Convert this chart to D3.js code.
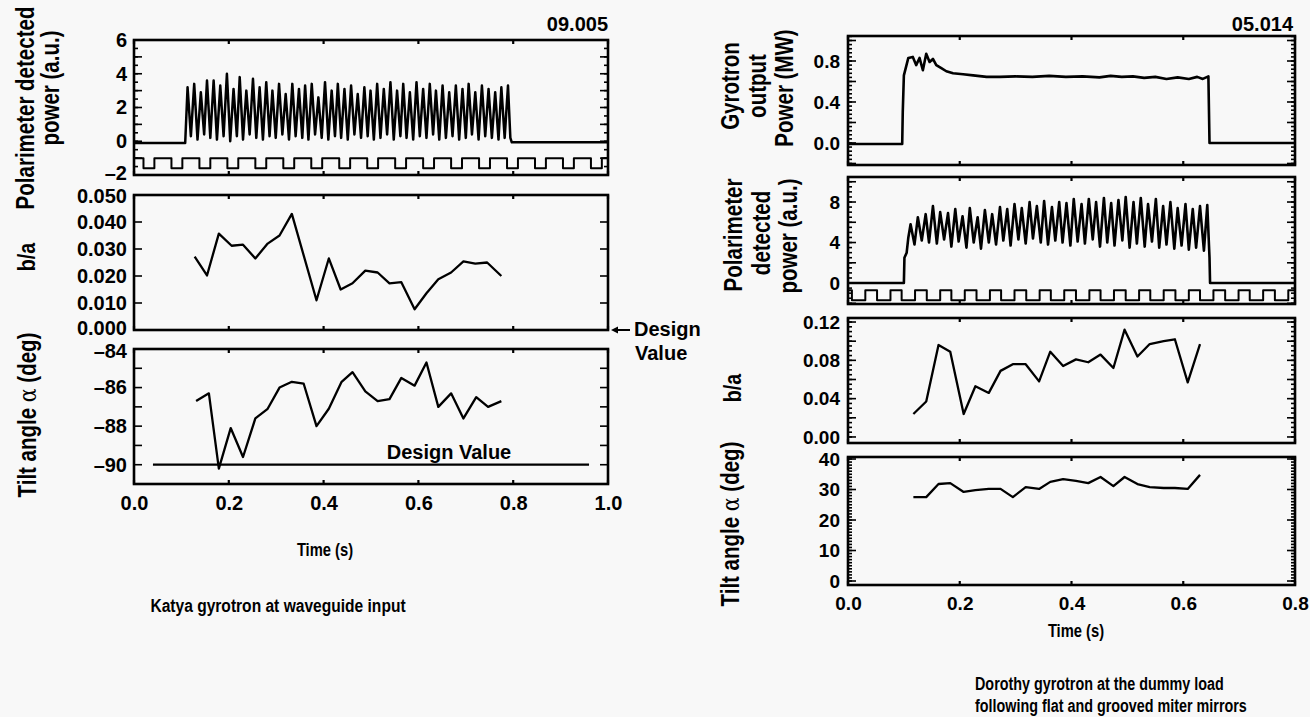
<!DOCTYPE html>
<html>
<head>
<meta charset="utf-8">
<script src="https://cdn.jsdelivr.net/npm/d3@7"></script>
<style>
  body { margin: 0; background: #f8f8f8; }
  text { font-family: "Liberation Sans", Arial, sans-serif; font-weight: bold; fill: #000; }
</style>
</head>
<body>
<svg id="chart" width="1310" height="717"></svg>
<script>
// ---------- left figure (Katya, shot 09.005) ----------
const leftLead = [[0.0, -0.1], [0.108, -0.1]];
const leftPeakT = [0.113,0.127,0.141,0.154,0.168,0.182,0.196,0.210,0.223,0.237,
                   0.251,0.265,0.279,0.292,0.306,0.320,0.334,0.348,0.361,0.375,
                   0.389,0.403,0.417,0.430,0.444,0.458,0.472,0.486,0.499,0.513,
                   0.527,0.541,0.555,0.568,0.582,0.596,0.610,0.624,0.637,0.651,
                   0.665,0.679,0.693,0.706,0.720,0.734,0.748,0.762,0.775,0.789];
const leftPeakV = [3.2,3.4,2.9,3.6,3.6,3.3,4.0,3.1,3.8,3.0,
                   3.7,3.2,3.5,3.0,3.4,2.8,3.4,3.1,3.3,3.4,
                   2.6,3.5,3.0,3.4,3.1,3.3,2.8,3.2,3.0,3.4,
                   3.1,3.5,3.0,3.4,2.9,3.5,3.1,3.4,3.0,3.3,
                   2.9,3.3,3.1,3.4,2.9,3.3,3.1,2.9,3.2,3.3];
const leftTroughT = [0.120,0.134,0.148,0.161,0.175,0.189,0.203,0.217,0.230,0.244,
                     0.258,0.272,0.286,0.299,0.313,0.327,0.341,0.355,0.368,0.382,
                     0.396,0.410,0.424,0.437,0.451,0.465,0.479,0.493,0.506,0.520,
                     0.534,0.548,0.562,0.575,0.589,0.603,0.617,0.631,0.644,0.658,
                     0.672,0.686,0.700,0.713,0.727,0.741,0.755,0.769,0.782];
const leftTroughV = [0.3,0.1,0.4,0.2,0.1,0.3,0.0,0.3,0.1,0.4,
                     0.2,0.1,0.3,0.2,0.4,0.1,0.3,0.2,0.1,0.4,
                     0.2,0.1,0.3,0.2,0.1,0.4,0.2,0.3,0.1,0.2,
                     0.4,0.1,0.3,0.2,0.1,0.3,0.2,0.4,0.1,0.2,
                     0.3,0.1,0.2,0.4,0.1,0.3,0.2,0.1,0.2];
const leftTail = [[0.794, 0.2], [0.797, -0.06], [1.0, -0.06]];

const leftChopHigh = -1.0, leftChopLow = -1.6;
const leftChopFall = [0.020,0.079,0.138,0.197,0.256,0.315,0.374,0.433,0.492,0.551,0.610,0.669,0.728,0.787,0.846,0.905,0.964];
const leftChopRise = [0.043,0.102,0.161,0.220,0.279,0.338,0.397,0.456,0.515,0.574,0.633,0.692,0.751,0.810,0.869,0.928,0.987];

const leftBaT = [0.128,0.154,0.179,0.206,0.230,0.256,0.282,0.307,0.333,0.385,0.411,0.436,0.461,0.488,
                 0.514,0.539,0.564,0.592,0.617,0.642,0.669,0.695,0.720,0.745,0.775];
const leftBaV = [0.0272,0.0202,0.0357,0.0312,0.0316,0.0265,0.0320,0.0350,0.0430,0.0110,0.0265,0.0150,0.0173,0.0220,
                 0.0213,0.0173,0.0177,0.0077,0.0136,0.0188,0.0213,0.0254,0.0246,0.0250,0.0200];

const leftTiltT = [0.131,0.158,0.179,0.204,0.230,0.256,0.282,0.307,0.333,0.358,0.385,0.411,0.438,0.461,
                   0.488,0.514,0.539,0.564,0.592,0.617,0.642,0.669,0.695,0.722,0.747,0.775];
const leftTiltV = [-86.7,-86.3,-90.2,-88.1,-89.6,-87.6,-87.1,-86.0,-85.7,-85.8,-88.0,-87.1,-85.7,-85.2,
                   -86.2,-86.7,-86.6,-85.5,-85.9,-84.7,-87.0,-86.3,-87.6,-86.5,-87.0,-86.7];
const leftDesignT = [0.04, 0.96], leftDesignV = -90;

// ---------- right figure (Dorothy, shot 05.014) ----------
const rightPower = [[0.0,-0.01],[0.097,-0.01],[0.098,0.30],[0.100,0.66],[0.108,0.83],[0.116,0.84],[0.122,0.76],
  [0.128,0.83],[0.134,0.71],[0.140,0.87],[0.146,0.79],[0.152,0.82],[0.158,0.76],[0.167,0.73],[0.176,0.70],
  [0.188,0.68],[0.206,0.67],[0.224,0.66],[0.248,0.645],[0.272,0.645],[0.300,0.650],[0.330,0.645],[0.360,0.655],
  [0.390,0.645],[0.420,0.650],[0.450,0.640],[0.470,0.655],[0.490,0.645],[0.510,0.650],[0.530,0.635],[0.550,0.645],
  [0.570,0.625],[0.590,0.640],[0.610,0.625],[0.625,0.645],[0.635,0.625],[0.645,0.650],[0.647,0.0],[0.800,0.0]];

const rightLead = [[0.0, 0.0], [0.100, 0.0], [0.101, 2.5], [0.105, 3.0], [0.108, 4.5]];
const rightPeakT = [0.112,0.125,0.139,0.152,0.165,0.179,0.192,0.205,0.218,0.232,
                    0.245,0.258,0.272,0.285,0.298,0.311,0.325,0.338,0.351,0.365,
                    0.378,0.391,0.404,0.418,0.431,0.444,0.458,0.471,0.484,0.497,
                    0.511,0.524,0.537,0.551,0.564,0.577,0.590,0.604,0.617,0.630,0.643];
const rightPeakV = [5.8,6.5,6.8,7.6,7.0,6.9,7.3,6.6,7.4,6.5,
                    7.2,6.8,7.5,7.3,7.8,7.4,8.0,7.6,8.1,7.5,
                    8.0,7.9,8.3,7.8,8.3,8.0,8.4,7.9,8.2,8.5,
                    8.0,8.4,7.8,8.3,7.6,8.0,7.4,7.8,7.3,7.6,7.7];
const rightTroughT = [0.119,0.132,0.145,0.159,0.172,0.185,0.198,0.212,0.225,0.238,
                      0.252,0.265,0.278,0.291,0.305,0.318,0.331,0.345,0.358,0.371,
                      0.384,0.398,0.411,0.424,0.438,0.451,0.464,0.477,0.491,0.504,
                      0.517,0.531,0.544,0.557,0.570,0.584,0.597,0.610,0.623,0.637];
const rightTroughV = [3.8,4.2,4.0,3.9,4.3,3.6,4.1,3.5,4.0,3.4,
                      4.0,3.8,4.2,3.7,4.3,3.9,4.4,4.0,3.8,4.2,
                      4.0,3.7,4.1,3.9,4.3,3.6,4.0,3.7,4.2,3.5,
                      3.9,3.6,4.1,3.5,3.8,3.4,3.7,3.3,3.5,3.2];
const rightTail = [[0.647, 2.5], [0.648, 0.0], [0.8, 0.0]];

const rightChopHigh = -0.7, rightChopLow = -1.7;
const rightChopFall = [0.007,0.052,0.096,0.141,0.185,0.230,0.274,0.319,0.363,0.408,0.452,0.497,0.541,0.586,0.630,0.675,0.719,0.764];
const rightChopRise = [0.031,0.076,0.120,0.165,0.209,0.254,0.298,0.343,0.387,0.432,0.476,0.521,0.565,0.610,0.654,0.699,0.743,0.788];

const rightBaT = [0.117,0.140,0.162,0.183,0.207,0.228,0.252,0.273,0.295,0.318,0.342,0.362,0.385,0.408,0.430,0.452,
                  0.475,0.495,0.518,0.540,0.565,0.585,0.608,0.630];
const rightBaV = [0.024,0.037,0.096,0.089,0.024,0.053,0.046,0.069,0.076,0.076,0.058,0.089,0.074,0.081,0.078,0.086,
                  0.072,0.112,0.084,0.097,0.100,0.102,0.057,0.097];
const rightTiltV = [27.5,27.5,31.8,32.1,29.2,29.8,30.2,30.2,27.5,30.8,30.2,32.5,33.4,32.8,32.1,34.1,
                    31.1,34.1,31.8,30.8,30.5,30.5,30.2,34.8];

// ---------- drawing ----------
const svg = d3.select("#chart");
const CONDENSE = 0.82;   // titles are set in a condensed bold face

function merge(lead, pT, pV, tT, tV, tail) {
  const pts = [...lead];
  pT.forEach((t, i) => {
    pts.push([t, pV[i]]);
    if (i < tT.length) pts.push([tT[i], tV[i]]);
  });
  return pts.concat(tail);
}

function chop(fall, rise, hi, lo, tEnd) {
  const ev = fall.map(t => [t, 0]).concat(rise.map(t => [t, 1])).sort((a, b) => a[0] - b[0]);
  const pts = [[0, hi]];
  ev.forEach(([t, up]) => {
    if (up) { pts.push([t, lo], [t, hi]); } else { pts.push([t, hi], [t, lo]); }
  });
  pts.push([tEnd, pts[pts.length - 1][1]]);
  return pts;
}

function styleText(sel, size) {
  sel.selectAll("text")
    .attr("font-family", "'Liberation Sans', Arial, sans-serif")
    .attr("font-weight", "bold")
    .attr("font-size", size)
    .attr("fill", "#000");
}

// inward tick marks on a vertical edge (dir +1 = to the right) or horizontal edge (dir -1 = upward)
function vTicks(y, vals, xEdge, len, dir) {
  svg.append("g").selectAll("line").data(vals).join("line")
    .attr("x1", xEdge).attr("x2", xEdge + dir * len)
    .attr("y1", d => y(d)).attr("y2", d => y(d))
    .attr("stroke", "#000").attr("stroke-width", 1.6);
}
function hTicks(x, vals, yEdge, len, dir) {
  svg.append("g").selectAll("line").data(vals).join("line")
    .attr("x1", d => x(d)).attr("x2", d => x(d))
    .attr("y1", yEdge).attr("y2", yEdge + dir * len)
    .attr("stroke", "#000").attr("stroke-width", 2.2);
}

function panel(x, yDomain, yRange, o) {
  const y = d3.scaleLinear().domain(yDomain).range(yRange);
  const [x0, x1] = x.range();
  const yTop = yRange[1], yBot = yRange[0];
  [[o.yMinor, 4], [o.yMajor, 8]].forEach(([vals, len]) => {
    if (!vals) return;
    vTicks(y, vals, x0, len, 1);
    vTicks(y, vals, x1, len, -1);
  });
  hTicks(x, o.xTicks, yBot, 4, -1);
  hTicks(x, o.xTicks, yTop, 4, 1);
  // labels
  const nudge = o.nudge || {};
  svg.append("g").attr("transform", `translate(${x0},0)`)
    .call(d3.axisLeft(y).tickValues(o.yLabels).tickSize(0).tickPadding(o.pad || 7).tickFormat(o.fmt))
    .call(g => g.select(".domain").remove())
    .call(g => styleText(g, o.fontSize))
    .call(g => g.selectAll("text").attr("y", d => nudge[d] || 0));
  svg.append("rect")
    .attr("x", x0).attr("y", yTop)
    .attr("width", x1 - x0).attr("height", yBot - yTop)
    .attr("fill", "none").attr("stroke", "#000").attr("stroke-width", 2.6);
  return y;
}

function trace(x, y, pts, w) {
  svg.append("path")
    .datum(pts)
    .attr("fill", "none").attr("stroke", "#000")
    .attr("stroke-width", w).attr("stroke-linejoin", "round")
    .attr("d", d3.line().x(d => x(d[0])).y(d => y(d[1])));
}

// condensed title text, horizontal or rotated
function title(txt, x, y, size, anchor, rot) {
  const t = svg.append("text")
    .attr("transform", `translate(${x},${y})${rot ? " rotate(-90)" : ""} scale(${CONDENSE},1)`)
    .attr("text-anchor", anchor || "middle").attr("font-size", size);
  if (txt.includes("α")) {
    const [a, b] = txt.split("α");
    t.append("tspan").text(a);
    t.append("tspan").attr("font-weight", "normal").attr("font-family", "'DejaVu Serif', serif").text("α");
    t.append("tspan").text(b);
  } else {
    t.text(txt);
  }
}

// left figure
const xL = d3.scaleLinear().domain([0, 1]).range([134, 608]);
const xTicksL = [0, 0.2, 0.4, 0.6, 0.8, 1.0];

const yL1 = panel(xL, [-2, 6], [175, 40], {
  xTicks: xTicksL, yMinor: d3.range(-2, 6.01, 0.5), yMajor: d3.range(-2, 6.01, 1),
  yLabels: [-2, 0, 2, 4, 6], fmt: d => d < 0 ? "–" + Math.abs(d) : d, fontSize: 20, nudge: { "-2": -2 } });
trace(xL, yL1, merge(leftLead, leftPeakT, leftPeakV, leftTroughT, leftTroughV, leftTail), 2.5);
trace(xL, yL1, chop(leftChopFall, leftChopRise, leftChopHigh, leftChopLow, 1.0), 2);

const yL2 = panel(xL, [0, 0.05], [330, 195], {
  xTicks: xTicksL, yMajor: d3.range(0, 0.0501, 0.01),
  yLabels: [0, 0.01, 0.02, 0.03, 0.04, 0.05], fmt: d3.format(".3f"), fontSize: 20, nudge: { "0": -2, "0.05": 1 } });
trace(xL, yL2, leftBaT.map((t, i) => [t, leftBaV[i]]), 2.3);

const yL3 = panel(xL, [-91, -84], [484, 349], {
  xTicks: xTicksL, yMajor: d3.range(-91, -83.9, 1),
  yLabels: [-90, -88, -86, -84], fmt: d => "–" + Math.abs(d), fontSize: 20, nudge: { "-84": 2 } });
trace(xL, yL3, leftDesignT.map(t => [t, leftDesignV]), 2.3);
trace(xL, yL3, leftTiltT.map((t, i) => [t, leftTiltV[i]]), 2.3);

svg.append("g").attr("transform", "translate(0,484)")
  .call(d3.axisBottom(xL).tickValues(xTicksL).tickSize(0).tickPadding(12).tickFormat(d3.format(".1f")))
  .call(g => g.select(".domain").remove())
  .call(g => styleText(g, 20));

svg.append("text").attr("x", 449).attr("y", 459).attr("text-anchor", "middle").attr("font-size", 20).text("Design Value");
svg.append("text").attr("x", 608).attr("y", 31).attr("text-anchor", "end").attr("font-size", 20).text("09.005");
title("Time (s)", 325, 556, 18);
title("Katya gyrotron at waveguide input", 278, 612, 19);
// design value arrow for b/a
svg.append("line").attr("x1", 613).attr("x2", 630).attr("y1", 330).attr("y2", 330).attr("stroke", "#000").attr("stroke-width", 2);
svg.append("path").attr("d", "M611,330 L618,326.5 L618,333.5 Z").attr("fill", "#000");
svg.append("text").attr("x", 634).attr("y", 336).attr("font-size", 20).text("Design");
svg.append("text").attr("x", 635).attr("y", 360).attr("font-size", 20).text("Value");

title("Polarimeter detected", 34, 108, 25, "middle", true);
title("power (a.u.)", 59, 88, 25, "middle", true);
title("b/a", 35, 257, 24, "middle", true);
title("Tilt angle α (deg)", 36, 415, 25, "middle", true);

// right figure
const xR = d3.scaleLinear().domain([0, 0.8]).range([848, 1295]);
const xTicksR = [0, 0.2, 0.4, 0.6, 0.8];

const yR1 = panel(xR, [-0.215, 1.044], [165, 36], {
  xTicks: xTicksR, yMinor: d3.range(-0.2, 1.0401, 0.04), yMajor: d3.range(-0.2, 1.0401, 0.2),
  yLabels: [0, 0.4, 0.8], fmt: d3.format(".1f"), fontSize: 19, pad: 8 });
trace(xR, yR1, rightPower, 2.6);

const yR2 = panel(xR, [-2.07, 10.47], [304, 177], {
  xTicks: xTicksR, yMinor: d3.range(-2, 10.01, 0.5), yMajor: d3.range(-2, 10.01, 2),
  yLabels: [0, 4, 8], fmt: d3.format("d"), fontSize: 19, pad: 8 });
trace(xR, yR2, merge(rightLead, rightPeakT, rightPeakV, rightTroughT, rightTroughV, rightTail), 2.6);
trace(xR, yR2, chop(rightChopFall, rightChopRise, rightChopHigh, rightChopLow, 0.8), 2);

const yR3 = panel(xR, [-0.0063, 0.1242], [443, 318], {
  xTicks: xTicksR, yMinor: d3.range(0, 0.1201, 0.005), yMajor: d3.range(0, 0.1201, 0.02),
  yLabels: [0, 0.04, 0.08, 0.12], fmt: d3.format(".2f"), fontSize: 19, pad: 8 });
trace(xR, yR3, rightBaT.map((t, i) => [t, rightBaV[i]]), 2.3);

const yR4 = panel(xR, [-1.31, 40.66], [585, 457], {
  xTicks: xTicksR, yMinor: d3.range(0, 40.01, 1), yMajor: d3.range(0, 40.01, 10),
  yLabels: [0, 10, 20, 30, 40], fmt: d3.format("d"), fontSize: 19, pad: 8 });
trace(xR, yR4, rightBaT.map((t, i) => [t, rightTiltV[i]]), 2.3);

svg.append("g").attr("transform", "translate(0,585)")
  .call(d3.axisBottom(xR).tickValues(xTicksR).tickSize(0).tickPadding(12).tickFormat(d3.format(".1f")))
  .call(g => g.select(".domain").remove())
  .call(g => styleText(g, 19));

svg.append("text").attr("x", 1293).attr("y", 31).attr("text-anchor", "end").attr("font-size", 20).text("05.014");
title("Time (s)", 1076, 637, 18);
title("Dorothy gyrotron at the dummy load", 975, 690, 17.5, "start");
title("following flat and grooved miter mirrors", 975, 712, 17.5, "start");

title("Gyrotron", 739, 86, 25, "middle", true);
title("output", 766, 86, 25, "middle", true);
title("Power (MW)", 793, 88, 25, "middle", true);
title("Polarimeter", 742, 235, 25, "middle", true);
title("detected", 770, 233, 25, "middle", true);
title("power (a.u.)", 797, 236, 25, "middle", true);
title("b/a", 741, 388, 24, "middle", true);
title("Tilt angle α (deg)", 739, 524, 25, "middle", true);
</script>
</body>
</html>
